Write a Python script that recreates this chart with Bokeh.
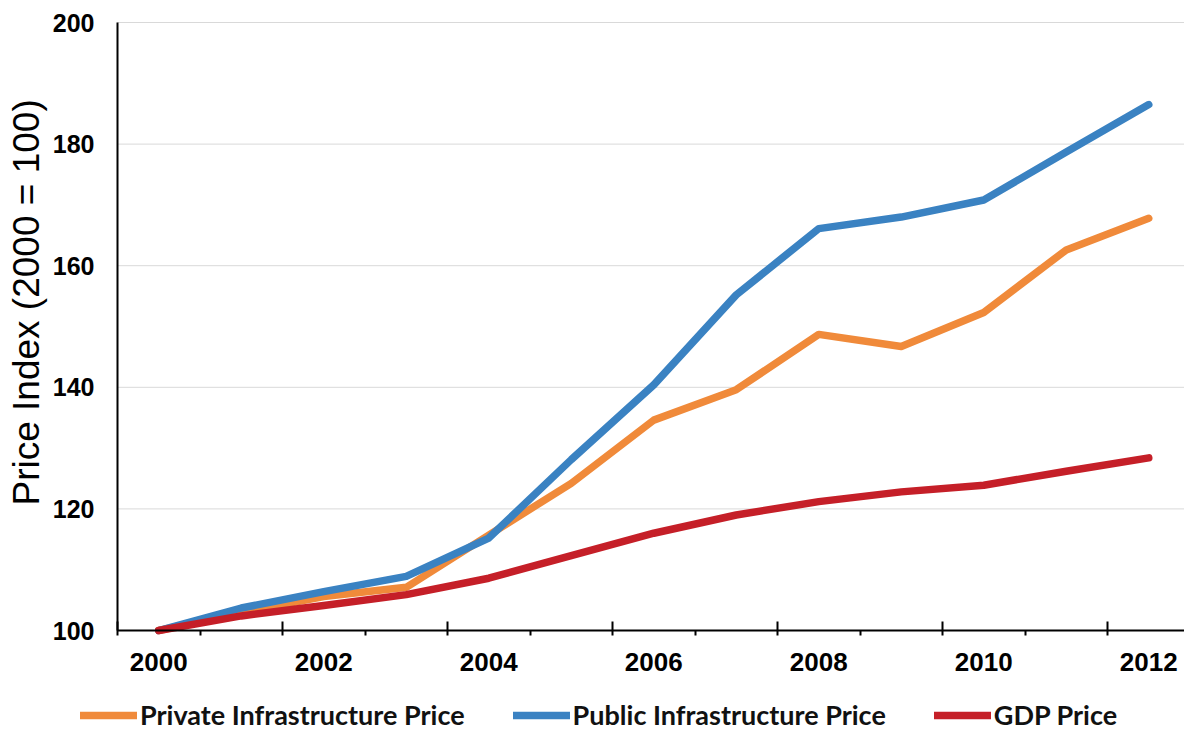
import math
from bokeh.plotting import figure
from bokeh.models import (Range1d, FixedTicker, LinearAxis, Legend, LegendItem, Label)
from bokeh.embed import file_html
from bokeh.resources import INLINE

# Price indexes, 2000 = 100
years = [2000, 2001, 2002, 2003, 2004, 2005, 2006, 2007, 2008, 2009, 2010, 2011, 2012]
private_infra = [100, 103.0, 105.6, 107.1, 115.7, 124.2, 134.6, 139.6, 148.7, 146.7, 152.3, 162.6, 167.8]
public_infra = [100, 103.7, 106.4, 108.9, 115.2, 128.1, 140.4, 155.2, 166.1, 168.0, 170.8, 178.7, 186.5]
gdp_price = [100, 102.4, 104.1, 105.9, 108.6, 112.3, 116.0, 119.0, 121.2, 122.8, 123.9, 126.2, 128.4]

series_names = ["Private Infrastructure Price", "Public Infrastructure Price", "GDP Price"]
series_colors = ["#F08A3A", "#3A82C2", "#C51F28"]

x_tick_years = [2000, 2002, 2004, 2006, 2008, 2010, 2012]
y_ticks = [100, 120, 140, 160, 180, 200]
y_title = "Price Index (2000 = 100)"

W, H = 1184, 731

# The whole canvas is the plot area; axes sit at fixed data positions so the
# legend and the axis title can share the same drawing space.
px_per_year = 82.5
px_per_unit = 6.08
x_axis_start = years[0] - 0.5
x_start = x_axis_start - 117 / px_per_year
x_end = x_axis_start + (W - 117) / px_per_year
y_start = y_ticks[0] - (H - 630) / px_per_unit
y_end = y_ticks[-1] + 22 / px_per_unit

p = figure(width=W, height=H, output_backend="svg", toolbar_location=None,
           x_axis_location=None, y_axis_location=None,
           min_border_left=0, min_border_right=0, min_border_top=0,
           min_border_bottom=0)
p.x_range = Range1d(x_start, x_end)
p.y_range = Range1d(y_start, y_end)
p.outline_line_color = None
p.background_fill_color = "white"
p.border_fill_color = "white"
p.xgrid.grid_line_color = None
p.ygrid.grid_line_color = None

# horizontal gridlines from the value axis to the right edge
p.segment(x0=[x_axis_start] * (len(y_ticks) - 1), x1=[x_end] * (len(y_ticks) - 1),
          y0=y_ticks[1:], y1=y_ticks[1:], line_color="#D9D9D9", line_width=1)

renderers = []
for vals, color in zip([private_infra, public_infra, gdp_price], series_colors):
    r = p.line(years, vals, line_color=color, line_width=7.5,
               line_join="round", line_cap="round")
    renderers.append(r)

# category boundaries: longer marks every other year, short ones in between
boundary_major = [y - 0.5 for y in x_tick_years]
boundary_minor = [y + 0.5 for y in x_tick_years[:-1]]
tick_axis = LinearAxis(ticker=FixedTicker(ticks=boundary_major, minor_ticks=boundary_minor),
                       fixed_location=y_ticks[0], bounds=(x_axis_start, x_end))
tick_axis.axis_line_color = "black"
tick_axis.axis_line_width = 2
tick_axis.major_tick_line_color = "black"
tick_axis.major_tick_line_width = 2
tick_axis.major_tick_in = 9
tick_axis.major_tick_out = 5
tick_axis.minor_tick_line_color = "black"
tick_axis.minor_tick_line_width = 2
tick_axis.minor_tick_in = 0
tick_axis.minor_tick_out = 5
tick_axis.major_label_overrides = {b: "" for b in boundary_major}
tick_axis.major_label_text_font_size = "10px"
p.add_layout(tick_axis, "below")

# year labels centred under their categories
label_axis = LinearAxis(ticker=FixedTicker(ticks=x_tick_years, minor_ticks=[]),
                        fixed_location=y_ticks[0], bounds=(x_axis_start, x_end))
label_axis.axis_line_color = None
label_axis.major_tick_line_color = None
label_axis.minor_tick_line_color = None
label_axis.major_tick_in = 0
label_axis.major_tick_out = 0
label_axis.major_label_standoff = 22
label_axis.major_label_text_font = "Liberation Sans"
label_axis.major_label_text_font_style = "bold"
label_axis.major_label_text_font_size = "26px"
label_axis.major_label_text_color = "black"
p.add_layout(label_axis, "below")

yax = LinearAxis(ticker=FixedTicker(ticks=y_ticks, minor_ticks=[]),
                 fixed_location=x_axis_start, bounds=(y_ticks[0], y_ticks[-1]))
yax.axis_line_color = "black"
yax.axis_line_width = 2
yax.major_tick_line_color = None
yax.minor_tick_line_color = None
yax.major_tick_in = 0
yax.major_tick_out = 0
yax.major_label_standoff = 23
yax.major_label_text_font = "Liberation Sans"
yax.major_label_text_font_style = "bold"
yax.major_label_text_font_size = "25px"
yax.major_label_text_color = "black"
p.add_layout(yax, "left")

# vertical axis title
p.add_layout(Label(x=26, y=H - 505, x_units="screen", y_units="screen",
                   text=y_title, angle=math.pi / 2,
                   text_align="left", text_baseline="middle",
                   text_font="Liberation Sans", text_font_style="normal",
                   text_font_size="37px", text_color="black"))

legend = Legend(items=[LegendItem(label=n, renderers=[r]) for n, r in zip(series_names, renderers)],
                orientation="horizontal", location=(80, 0),
                glyph_width=57, glyph_height=20, label_standoff=3, spacing=48,
                padding=0, margin=0, border_line_color=None,
                background_fill_alpha=0,
                label_text_font="Lato", label_text_font_style="bold",
                label_text_font_size="27px", label_text_color="#111111")
p.add_layout(legend, "center")

open("out.html", "w").write(file_html(p, INLINE))
